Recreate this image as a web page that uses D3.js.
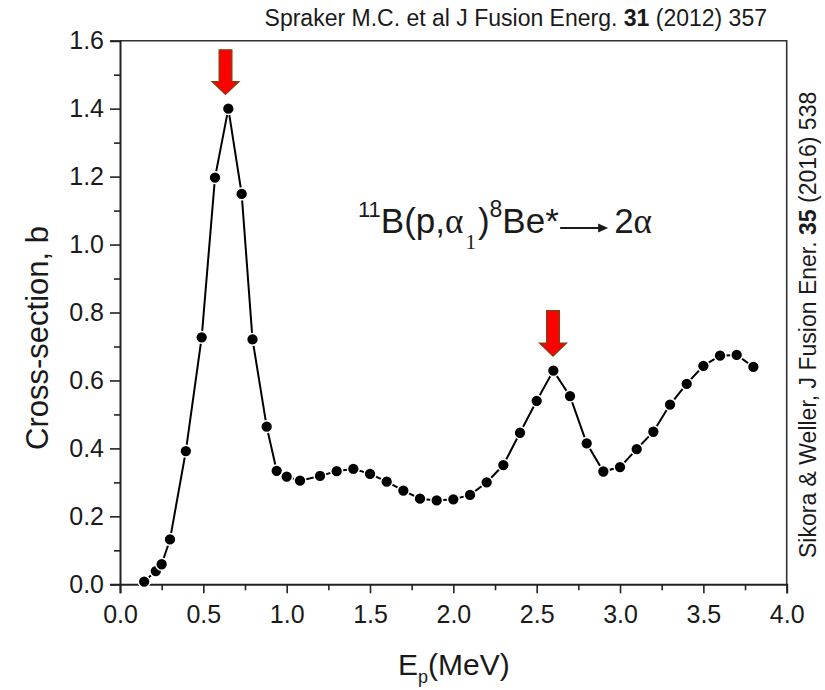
<!DOCTYPE html>
<html>
<head>
<meta charset="utf-8">
<script src="https://cdn.jsdelivr.net/npm/d3@7"></script>
<style>
  body { margin: 0; background: #fff; }
  text { font-family: "Liberation Sans", Arial, sans-serif; fill: #1a1a1a; }
  .serif { font-family: "Liberation Serif", "Times New Roman", serif; }
</style>
</head>
<body>
<div id="chart"></div>
<script>
// data: proton energy (MeV) and cross-section (b)
var energy = [0.145, 0.215, 0.25, 0.30, 0.395, 0.49, 0.57, 0.65, 0.73, 0.795,
  0.88, 0.94, 1.0, 1.08, 1.2, 1.3, 1.4, 1.5, 1.6, 1.7, 1.8, 1.9, 2.0, 2.1,
  2.2, 2.3, 2.4, 2.5, 2.6, 2.7, 2.8, 2.9, 3.0, 3.1, 3.2, 3.3, 3.4, 3.5, 3.6, 3.7, 3.8]
var crossSection = [0.008, 0.039, 0.059, 0.132, 0.392, 0.727, 1.197, 1.40, 1.149, 0.721,
  0.464, 0.334, 0.317, 0.305, 0.319, 0.333, 0.340, 0.325, 0.302, 0.276, 0.252, 0.247, 0.250, 0.263,
  0.300, 0.351, 0.446, 0.540, 0.629, 0.554, 0.415, 0.332, 0.345, 0.398, 0.449, 0.529, 0.590, 0.643, 0.673, 0.675, 0.640]

var xTicks = [0, 0.5, 1.0, 1.5, 2.0, 2.5, 3.0, 3.5, 4.0]
var xMinor = [0.25, 0.75, 1.25, 1.75, 2.25, 2.75, 3.25, 3.75]
var yTicks = [0, 0.2, 0.4, 0.6, 0.8, 1.0, 1.2, 1.4, 1.6]
var yMinor = [0.1, 0.3, 0.5, 0.7, 0.9, 1.1, 1.3, 1.5]

// red arrows marking the two resonances (x, top, tip in data units)
var arrowX = [0.633, 2.598]
var arrowTop = [1.573, 0.805]
var arrowTip = [1.442, 0.672]

var W = 825, H = 690
var margin = {top: 40.7, right: 38.3, bottom: 105.7, left: 120}
var w = W - margin.left - margin.right
var h = H - margin.top - margin.bottom

var svg = d3.select("#chart").append("svg")
  .attr("width", W)
  .attr("height", H)

var g = svg.append("g")
  .attr("transform", `translate(${margin.left},${margin.top})`)

var x = d3.scaleLinear().domain([0, 4]).range([0, w])
var y = d3.scaleLinear().domain([0, 1.6]).range([h, 0])

// frame top + right
g.append("path")
  .attr("d", `M0,0H${w}V${h}`)
  .attr("fill", "none")
  .attr("stroke", "#333")
  .attr("stroke-width", 1.6)

// axes
g.append("g")
  .attr("transform", `translate(0,${h})`)
  .call(d3.axisBottom(x).tickValues(xTicks).tickFormat(d3.format(".1f")).tickSize(9).tickPadding(12))
g.append("g")
  .attr("transform", `translate(0,${h})`)
  .call(d3.axisBottom(x).tickValues(xMinor).tickFormat("").tickSize(6))
  .call(s => s.select(".domain").remove())

g.append("g")
  .call(d3.axisLeft(y).tickValues(yTicks).tickFormat(d3.format(".1f")).tickSize(10).tickPadding(6))
g.append("g")
  .call(d3.axisLeft(y).tickValues(yMinor).tickFormat("").tickSize(6))
  .call(s => s.select(".domain").remove())

svg.selectAll(".domain").attr("stroke", "#222").attr("stroke-width", 2)
svg.selectAll(".tick line").attr("stroke", "#222").attr("stroke-width", 1.6)
svg.selectAll(".tick text")
  .attr("font-size", 25)
  .attr("font-family", "Liberation Sans, Arial, sans-serif")
  .attr("fill", "#1a1a1a")

// curve + points
var pts = energy.map((e, i) => [e, crossSection[i]])

g.append("path")
  .datum(pts)
  .attr("fill", "none")
  .attr("stroke", "#000")
  .attr("stroke-width", 2)
  .attr("d", d3.line().x(d => x(d[0])).y(d => y(d[1])))

g.append("g")
  .selectAll("circle")
  .data(pts)
  .join("circle")
  .attr("cx", d => x(d[0]))
  .attr("cy", d => y(d[1]))
  .attr("r", 5.9)
  .attr("fill", "#000")
  .attr("stroke", "#fff")
  .attr("stroke-width", 1.5)

// arrows
arrowX.forEach(function (ax, i) {
  var cx = x(ax), t = y(arrowTop[i]), tip = y(arrowTip[i])
  var sw = 6.3, hw = 13.3, hh = 12.8
  var p = [[cx - sw, t], [cx + sw, t], [cx + sw, tip - hh], [cx + hw, tip - hh],
    [cx, tip], [cx - hw, tip - hh], [cx - sw, tip - hh]]
  g.append("polygon")
    .attr("points", p.map(q => q.join(",")).join(" "))
    .attr("fill", "#ff0000")
    .attr("stroke", "#8a3b12")
    .attr("stroke-width", 1.4)
})

// axis titles
svg.append("text")
  .attr("transform", "translate(48,338) rotate(-90)")
  .attr("text-anchor", "middle")
  .attr("font-size", 31)
  .text("Cross-section, b")

var xl = svg.append("text")
  .attr("x", 398)
  .attr("y", 675)
  .attr("font-size", 30)
xl.append("tspan").text("E")
xl.append("tspan").attr("font-size", 18).attr("dy", 8).text("p")
xl.append("tspan").attr("dy", -8).text("(MeV)")

// references
var ref1 = svg.append("text")
  .attr("x", 767)
  .attr("y", 26)
  .attr("text-anchor", "end")
  .attr("font-size", 23)
ref1.append("tspan").text("Spraker M.C. et al J Fusion Energ. ")
ref1.append("tspan").attr("font-weight", "bold").text("31")
ref1.append("tspan").text(" (2012) 357")

var ref2 = svg.append("text")
  .attr("transform", "translate(816,558) rotate(-90)")
  .attr("font-size", 23)
ref2.append("tspan").text("Sikora & Weller, J Fusion Ener. ")
ref2.append("tspan").attr("font-weight", "bold").text("35")
ref2.append("tspan").text(" (2016) 538")

// reaction label
var rx = svg.append("text")
  .attr("x", 358)
  .attr("y", 233)
  .attr("font-size", 35)
rx.append("tspan").attr("font-size", 22).attr("dy", -16).text("11")
rx.append("tspan").attr("dy", 16).text("B(p,")
rx.append("tspan").attr("class", "serif").text("\u03b1")
rx.append("tspan").attr("class", "serif").attr("font-size", 21).attr("dy", 16).attr("dx", 2).text("1")
rx.append("tspan").attr("dy", -16).attr("dx", 2).text(")")
rx.append("tspan").attr("font-size", 23).attr("dy", -16).text("8")
rx.append("tspan").attr("dy", 16).text("Be*")

var bb = rx.node().getBBox()
var a0 = bb.x + bb.width + 1, a1 = a0 + 48, ay = 228
svg.append("line")
  .attr("x1", a0).attr("x2", a1 - 8)
  .attr("y1", ay).attr("y2", ay)
  .attr("stroke", "#1a1a1a").attr("stroke-width", 2.2)
svg.append("polygon")
  .attr("points", `${a1},${ay} ${a1 - 10},${ay - 4.5} ${a1 - 10},${ay + 4.5}`)
  .attr("fill", "#1a1a1a")

var rx2 = svg.append("text")
  .attr("x", a1 + 6)
  .attr("y", 233)
  .attr("font-size", 35)
rx2.append("tspan").text("2")
rx2.append("tspan").attr("class", "serif").text("\u03b1")
</script>
</body>
</html>
